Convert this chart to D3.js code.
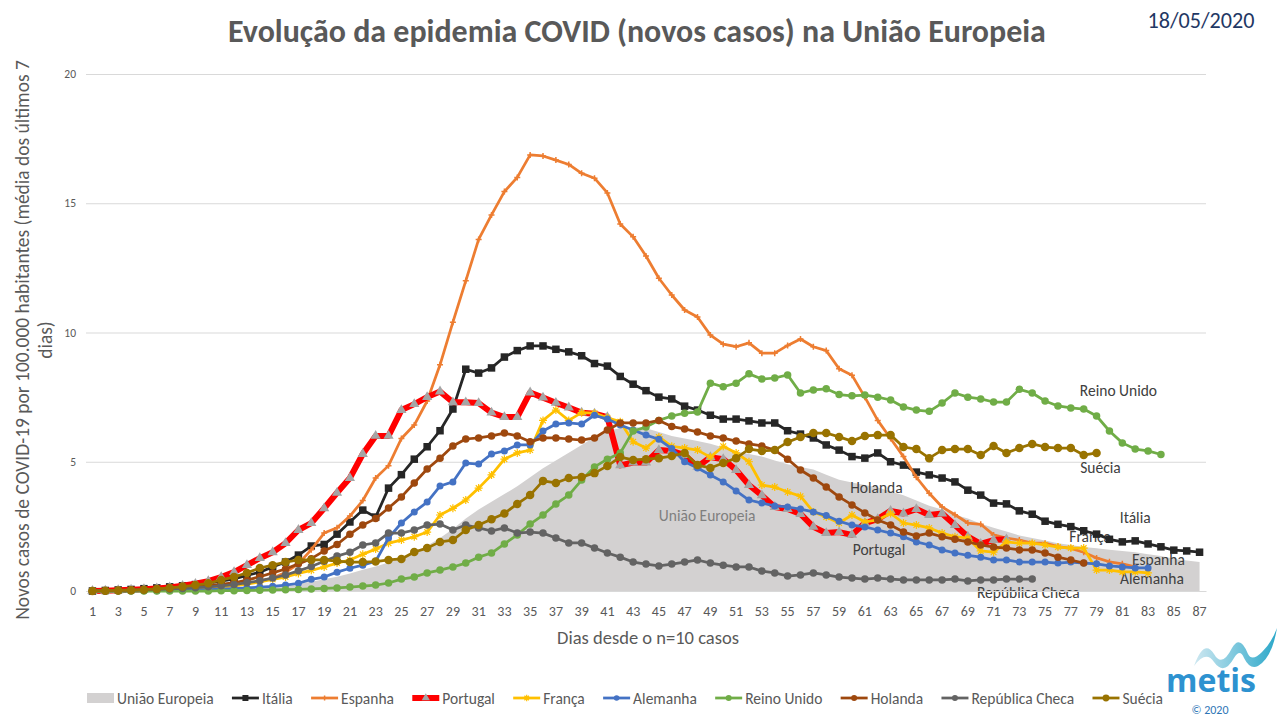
<!DOCTYPE html>
<html><head><meta charset="utf-8">
<script src="https://cdn.jsdelivr.net/npm/d3@7"></script>
<style>body{margin:0;background:#fff;} svg{display:block;font-family:Carlito,Calibri,Lato,sans-serif;}</style>
</head><body><svg id="c" width="1280" height="720"></svg>
<script>
// ---------------- DATA ----------------
const days = d3.range(1, 88);
const xTickLabels = days.filter(d => d % 2 === 1);
const yTicks = [0, 5, 10, 15, 20];
const seriesNames = ["União Europeia","Itália","Espanha","Portugal","França","Alemanha","Reino Unido","Holanda","República Checa","Suécia"];

const uniaoEuropeia = [0,0,0,0.01,0.01,0.02,0.02,0.03,0.04,0.05,0.07,0.09,0.12,0.16,0.2,0.25,0.3,0.36,0.45,0.55,0.68,0.82,0.95,1.1,1.3,1.5,1.75,2.05,2.4,2.8,3.15,3.45,3.75,4.05,4.4,4.75,5.05,5.35,5.65,5.95,6.2,6.3,6.35,6.3,6.15,6.0,5.9,5.8,5.7,5.55,5.4,5.3,5.2,5.05,4.9,4.8,4.7,4.5,4.3,4.2,4.1,4.0,3.85,3.7,3.5,3.3,3.15,2.95,2.8,2.6,2.45,2.3,2.15,2.05,1.95,1.85,1.78,1.7,1.65,1.6,1.55,1.5,1.42,1.35,1.25,1.18,1.12];
const italia = [0,0.02,0.04,0.06,0.09,0.12,0.16,0.2,0.25,0.3,0.38,0.47,0.6,0.73,0.93,1.12,1.39,1.74,1.8,2.2,2.67,3.13,2.86,3.98,4.5,5.1,5.58,6.2,7.04,8.58,8.43,8.63,9.05,9.3,9.48,9.48,9.35,9.25,9.1,8.8,8.7,8.3,8.0,7.75,7.5,7.43,7.15,7.0,6.8,6.65,6.65,6.58,6.5,6.5,6.2,6.07,5.92,5.65,5.45,5.2,5.14,5.34,5.0,4.87,4.6,4.49,4.37,4.22,3.9,3.71,3.4,3.37,3.1,2.97,2.7,2.58,2.49,2.33,2.2,2.0,1.9,1.94,1.82,1.71,1.58,1.55,1.5];
const espanha = [0,0,0.01,0.02,0.03,0.04,0.05,0.07,0.1,0.13,0.17,0.22,0.28,0.38,0.5,0.72,1.05,1.6,2.24,2.45,2.9,3.5,4.37,4.85,5.9,6.42,7.35,8.75,10.4,12.0,13.6,14.55,15.45,16.0,16.87,16.83,16.67,16.5,16.16,15.97,15.4,14.2,13.7,12.96,12.1,11.45,10.87,10.6,9.9,9.55,9.45,9.6,9.2,9.2,9.5,9.75,9.45,9.3,8.6,8.35,7.5,6.6,5.9,5.2,4.4,3.78,3.25,2.95,2.63,2.58,2.17,2.05,1.97,1.85,1.85,1.72,1.65,1.5,1.28,1.13,1.05,0.93,null,null,null,null,null];
const portugal = [0,0.01,0.03,0.05,0.07,0.1,0.14,0.2,0.28,0.38,0.54,0.73,1.0,1.27,1.5,1.85,2.36,2.63,3.2,3.8,4.37,5.3,6.0,6.0,7.0,7.23,7.5,7.72,7.3,7.3,7.27,6.9,6.73,6.73,7.68,7.48,7.28,7.1,6.9,6.86,6.73,4.86,4.97,4.97,5.45,5.42,5.26,4.8,5.18,5.1,4.68,4.1,3.7,3.25,3.17,2.98,2.48,2.24,2.28,2.17,2.63,2.78,3.1,3.0,3.17,2.94,3.0,2.55,2.1,1.82,1.97,2.0,null,null,null,null,null,null,null,null,null,null,null,null,null,null,null];
const franca = [0,0,0,0.01,0.02,0.03,0.04,0.05,0.08,0.1,0.15,0.2,0.27,0.35,0.45,0.54,0.68,0.8,0.93,1.08,1.2,1.42,1.62,1.85,1.97,2.1,2.28,2.94,3.2,3.52,3.98,4.49,5.1,5.34,5.45,6.6,7.0,6.6,6.9,6.88,6.7,6.55,5.77,5.53,5.96,5.6,5.53,5.45,5.18,5.6,5.34,5.0,4.1,4.02,3.83,3.67,3.06,2.86,2.63,2.94,2.67,2.75,3.0,2.63,2.55,2.44,2.24,2.1,2.05,1.55,1.5,1.9,1.85,1.85,1.78,1.7,1.66,1.66,0.81,0.81,0.74,0.74,0.7,null,null,null,null];
const alemanha = [0,0,0,0,0.01,0.01,0.02,0.03,0.04,0.05,0.07,0.09,0.12,0.15,0.18,0.23,0.3,0.45,0.54,0.73,0.88,1.0,1.15,2.05,2.63,3.06,3.44,4.06,4.22,4.95,4.91,5.3,5.42,5.65,5.65,6.19,6.46,6.5,6.46,6.8,6.65,6.42,6.23,6.03,5.87,5.51,5.0,4.76,4.49,4.22,3.87,3.52,3.4,3.29,3.25,3.17,3.06,2.92,2.7,2.55,2.48,2.36,2.24,2.1,1.9,1.78,1.59,1.47,1.38,1.31,1.2,1.2,1.12,1.12,1.12,1.08,1.12,1.08,1.05,0.97,0.93,0.89,0.89,null,null,null,null];
const reinoUnido = [0,0,0,0,0,0,0,0,0,0,0.01,0.01,0.02,0.03,0.04,0.05,0.06,0.08,0.1,0.12,0.15,0.19,0.23,0.31,0.46,0.54,0.7,0.81,0.93,1.08,1.31,1.47,1.82,2.17,2.59,2.94,3.37,3.71,4.29,4.8,5.1,5.34,6.19,6.34,6.6,6.77,6.88,6.92,8.04,7.9,8.04,8.4,8.2,8.24,8.36,7.66,7.78,7.82,7.6,7.55,7.58,7.5,7.39,7.12,7.0,6.95,7.27,7.66,7.5,7.43,7.31,7.31,7.8,7.66,7.35,7.16,7.08,7.04,6.77,6.19,5.73,5.49,5.42,5.28,null,null,null];
const holanda = [0,0.01,0.02,0.03,0.05,0.07,0.1,0.13,0.17,0.21,0.26,0.32,0.42,0.55,0.7,0.85,1.05,1.25,1.55,1.8,2.2,2.55,2.8,3.21,3.64,4.18,4.72,5.14,5.61,5.88,5.92,6.0,6.11,6.0,5.77,5.92,5.92,5.88,5.84,5.92,6.23,6.5,6.5,6.5,6.6,6.36,6.27,6.15,6.0,5.92,5.8,5.69,5.61,5.45,5.1,4.68,4.37,4.02,3.64,3.33,3.02,2.75,2.55,2.28,2.13,2.24,2.1,2.0,1.9,1.78,1.7,1.66,1.59,1.59,1.47,1.31,1.2,1.08,null,null,null,null,null,null,null,null,null];
const republicaCheca = [0,0.01,0.02,0.03,0.04,0.06,0.08,0.1,0.13,0.16,0.2,0.25,0.32,0.4,0.5,0.62,0.78,0.95,1.15,1.35,1.5,1.78,1.86,2.24,2.24,2.36,2.55,2.59,2.36,2.55,2.44,2.32,2.44,2.24,2.28,2.24,2.05,1.86,1.86,1.66,1.47,1.31,1.12,1.04,0.97,1.04,1.12,1.2,1.08,1.0,0.93,0.93,0.77,0.7,0.58,0.62,0.7,0.62,0.54,0.5,0.46,0.5,0.46,0.43,0.43,0.43,0.43,0.46,0.39,0.43,0.43,0.46,0.46,0.46,null,null,null,null,null,null,null,null,null,null,null,null,null];
const suecia = [0,0.01,0.02,0.03,0.05,0.08,0.12,0.17,0.23,0.3,0.43,0.54,0.7,0.89,1.0,1.12,1.2,1.2,1.2,1.16,1.12,1.12,1.14,1.2,1.24,1.51,1.66,1.9,1.97,2.36,2.55,2.78,3.0,3.37,3.71,4.26,4.18,4.37,4.41,4.56,4.84,5.18,5.07,5.1,5.14,5.22,5.34,4.87,4.76,4.95,5.14,5.49,5.42,5.45,5.76,5.96,6.11,6.11,5.96,5.8,6.0,6.03,6.03,5.57,5.49,5.14,5.45,5.49,5.49,5.26,5.61,5.34,5.53,5.69,5.57,5.53,5.53,5.26,5.34,null,null,null,null,null,null,null,null];

// ---------------- SETUP ----------------
const svg = d3.select("#c");
const plot = {left: 86, right: 1206, top: 74, bottom: 591};
const x = d3.scaleBand().domain(days).range([plot.left, plot.right]);
const cx = d => x(d) + x.bandwidth() / 2;
const y = d3.scaleLinear().domain([0, 20]).range([plot.bottom, plot.top]);
const textCol = "#595959";
const FONT = "Carlito,Calibri,Lato,sans-serif";

function fitWidth(sel, target) {
  const w = sel.node().getComputedTextLength();
  const fs = parseFloat(sel.attr("font-size"));
  if (w > 0) sel.attr("font-size", (fs * target / w).toFixed(2));
}

// gridlines + y ticks
const yAxis = d3.axisLeft(y).tickValues(yTicks).tickSize(-(plot.right - plot.left)).tickPadding(10);
const gy = svg.append("g").attr("transform", `translate(${plot.left},0)`).call(yAxis);
gy.select(".domain").remove();
gy.selectAll(".tick line").attr("stroke", "#d9d9d9").attr("stroke-width", 1);
gy.selectAll(".tick text").attr("fill", textCol).attr("font-size", 11.5).attr("font-family", FONT);

// EU area
const area = d3.area().defined(v => v != null)
  .x((v, i) => cx(days[i])).y0(y(0)).y1(v => y(v));
svg.append("path").datum(uniaoEuropeia).attr("d", area).attr("fill", "#d3d1d1");

// labels inside chart
const labels = [
  {t: "Reino Unido", d: 80.7, v: 7.74},
  {t: "Suécia", d: 79.3, v: 4.76},
  {t: "Itália", d: 82.0, v: 2.86},
  {t: "França", d: 78.5, v: 2.09},
  {t: "Espanha", d: 83.8, v: 1.2},
  {t: "Alemanha", d: 83.3, v: 0.5},
  {t: "República Checa", d: 73.7, v: -0.04},
  {t: "Holanda", d: 61.9, v: 4.02},
  {t: "Portugal", d: 62.1, v: 1.59},
  {t: "União Europeia", d: 48.75, v: 2.94, c: "#7f7f7f"}
];
const xl = d3.scaleLinear().domain([1, 87]).range([cx(1), cx(87)]);
svg.append("g").selectAll("text").data(labels).join("text")
  .attr("x", d => xl(d.d)).attr("y", d => y(d.v))
  .attr("text-anchor", "middle").attr("dominant-baseline", "central")
  .attr("font-size", 15.5).attr("fill", d => d.c || "#404040").text(d => d.t);

// x axis labels
const xAxis = d3.axisBottom(x).tickValues(xTickLabels).tickSize(0).tickPadding(15);
const gx = svg.append("g").attr("transform", `translate(0,${plot.bottom})`).call(xAxis);
gx.select(".domain").attr("stroke", "#d9d9d9");
gx.selectAll(".tick text").attr("fill", textCol).attr("font-size", 14).attr("font-family", FONT);

// markers
function starPath(s){ const r=s/2; let p=""; for(let k=0;k<4;k++){const a=k*Math.PI/4; p+=`M${(-r*Math.cos(a)).toFixed(2)},${(-r*Math.sin(a)).toFixed(2)}L${(r*Math.cos(a)).toFixed(2)},${(r*Math.sin(a)).toFixed(2)}`;} return p; }
function drawMarker(g, s) {
  const size = s.ms, col = s.mc;
  if (s.m === "square") g.append("rect").attr("x", -size/2).attr("y", -size/2).attr("width", size).attr("height", size).attr("fill", col);
  else if (s.m === "circle") g.append("circle").attr("r", size/2).attr("fill", col);
  else if (s.m === "plus") g.append("path").attr("d", `M${-size/2},0H${size/2}M0,${-size/2}V${size/2}`).attr("stroke", col).attr("stroke-width", 1.5);
  else if (s.m === "triangle") g.append("path").attr("d", d3.symbol(d3.symbolTriangle, size*size*0.45)()).attr("fill", col);
  else if (s.m === "star") g.append("path").attr("d", starPath(size)).attr("stroke", col).attr("stroke-width", 1.2).attr("fill", "none");
}

const series = [
  {name: "Itália", data: italia, col: "#262626", w: 2.75, m: "square", mc: "#262626", ms: 7.5},
  {name: "Espanha", data: espanha, col: "#ED7D31", w: 2.75, m: "plus", mc: "#ED7D31", ms: 6},
  {name: "Portugal", data: portugal, col: "#FF0000", w: 6, m: "triangle", mc: "#A5A5A5", ms: 10},
  {name: "França", data: franca, col: "#FFC000", w: 2.75, m: "star", mc: "#FFC000", ms: 8},
  {name: "Alemanha", data: alemanha, col: "#4472C4", w: 2.75, m: "circle", mc: "#4472C4", ms: 7},
  {name: "Reino Unido", data: reinoUnido, col: "#70AD47", w: 2.75, m: "circle", mc: "#70AD47", ms: 7.5},
  {name: "Holanda", data: holanda, col: "#9E480E", w: 2.75, m: "circle", mc: "#9E480E", ms: 7.5},
  {name: "República Checa", data: republicaCheca, col: "#636363", w: 2.75, m: "circle", mc: "#636363", ms: 7.5},
  {name: "Suécia", data: suecia, col: "#997300", w: 2.75, m: "circle", mc: "#997300", ms: 8.5}
];

const line = d3.line().defined(v => v != null).x((v, i) => cx(days[i])).y(v => y(v));
series.forEach(s => {
  const g = svg.append("g");
  g.append("path").datum(s.data).attr("d", line).attr("fill", "none").attr("stroke", s.col)
    .attr("stroke-width", s.w).attr("stroke-linejoin", "round");
  s.data.forEach((v, i) => {
    if (v == null) return;
    drawMarker(g.append("g").attr("transform", `translate(${cx(days[i])},${y(v)})`), s);
  });
});

// title
const title = svg.append("text").attr("x", 637).attr("y", 31).attr("text-anchor", "middle")
  .attr("dominant-baseline", "central").attr("font-weight", "bold").attr("font-size", 27)
  .attr("fill", textCol).text("Evolução da epidemia COVID (novos casos) na União Europeia");
fitWidth(title, 818);

const dateT = svg.append("text").attr("x", 1201).attr("y", 20).attr("text-anchor", "middle")
  .attr("dominant-baseline", "central").attr("font-size", 20).attr("fill", "#1F3864").text("18/05/2020");
fitWidth(dateT, 107);

// axis titles
const yl = svg.append("g").attr("transform", "translate(22,340) rotate(-90)");
const yl1 = yl.append("text").attr("text-anchor", "middle").attr("dominant-baseline", "central")
  .attr("font-size", 16).attr("fill", textCol).text("Novos casos de COVID-19 por 100.000 habitantes (média dos últimos 7");
fitWidth(yl1, 560);
yl.append("text").attr("y", 23).attr("text-anchor", "middle").attr("dominant-baseline", "central")
  .attr("font-size", yl1.attr("font-size")).attr("fill", textCol).text("dias)");

const xt = svg.append("text").attr("x", 648).attr("y", 637).attr("text-anchor", "middle")
  .attr("dominant-baseline", "central").attr("font-size", 16).attr("fill", textCol).text("Dias desde o n=10 casos");
fitWidth(xt, 182);

// logo
const defs = svg.append("defs");
const grad = defs.append("linearGradient").attr("id", "lg1").attr("x1", "0").attr("x2", "1");
grad.append("stop").attr("offset", "0").attr("stop-color", "#cfe8f1");
grad.append("stop").attr("offset", "1").attr("stop-color", "#2aa7c9");
svg.append("path")
  .attr("d", "M1194,666 Q1204,638 1214,654 Q1222,668 1232,648 Q1240,634 1248,654 Q1252,662 1262,652 Q1272,642 1277,628 Q1272,658 1258,666 Q1250,670 1244,658 Q1240,648 1234,658 Q1224,676 1214,662 Q1206,650 1194,666 Z")
  .attr("fill", "url(#lg1)");
svg.append("text").attr("x", 1166).attr("y", 692)
  .attr("font-size", 33).attr("font-weight", "bold").attr("fill", "#2d92d0")
  .attr("font-family", "'Open Sans',Lato,sans-serif")
  .attr("textLength", 90).attr("lengthAdjust", "spacingAndGlyphs").text("metis");
svg.append("text").attr("x", 1210).attr("y", 714).attr("text-anchor", "middle")
  .attr("font-size", 12).attr("fill", "#2e75b6").text("© 2020");

// legend
const legItems = [{name: seriesNames[0], area: true}].concat(series.map(s => ({name: s.name, s})));
const lg = svg.append("g");
const ly = 698;
const texts = legItems.map(it => lg.append("text").attr("y", ly).attr("dominant-baseline", "central")
  .attr("font-size", 15.5).attr("fill", textCol).text(it.name));
const symW = 27, pad = 3, startX = 87, endX = 1163;
const widths = texts.map(t => t.node().getComputedTextLength());
const gap = (endX - startX - d3.sum(widths) - legItems.length * (symW + pad)) / (legItems.length - 1);
let lx = startX;
legItems.forEach((it, i) => {
  if (it.area) {
    lg.append("rect").attr("x", lx).attr("y", ly - 5).attr("width", symW).attr("height", 10).attr("fill", "#d3d1d1");
  } else {
    const s = it.s;
    lg.append("line").attr("x1", lx).attr("x2", lx + symW).attr("y1", ly).attr("y2", ly)
      .attr("stroke", s.col).attr("stroke-width", s.w);
    drawMarker(lg.append("g").attr("transform", `translate(${lx + symW/2},${ly})`), Object.assign({}, s, {ms: s.ms * 0.8}));
  }
  texts[i].attr("x", lx + symW + pad);
  lx += symW + pad + widths[i] + gap;
});
</script></body></html>
